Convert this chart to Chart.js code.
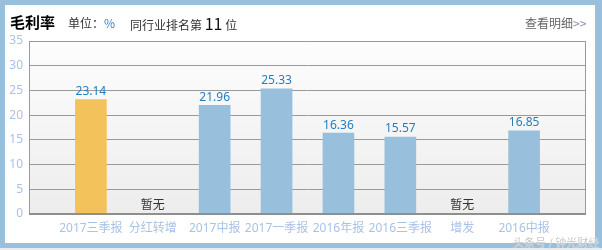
<!DOCTYPE html>
<html><head><meta charset="utf-8">
<script src="https://cdn.jsdelivr.net/npm/chart.js@4/dist/chart.umd.min.js"></script>
<style>
html,body{margin:0;padding:0;}
body{width:602px;height:250px;background:#e9ecef;position:relative;overflow:hidden;font-family:"Noto Sans CJK SC","Noto Sans",sans-serif;}
#frame{position:absolute;left:0;top:0;width:602px;height:248px;background:#98bfdc;}
#panel{position:absolute;left:5px;top:5px;width:590px;height:238px;background:#fff;}
#c{position:absolute;left:0;top:0;}
.t{position:absolute;white-space:nowrap;color:#333;font-size:12px;line-height:16px;}
#wm{position:absolute;left:513px;top:234px;font-size:11px;color:#c8c8c8;white-space:nowrap;text-shadow:0 0 1px #fff;}
</style></head>
<body>
<div id="frame"></div><div id="panel"></div>
<canvas id="c" width="602" height="250"></canvas>
<div class="t" style="left:10px;top:14px;font-size:15px;font-weight:bold;color:#000;">毛利率</div>
<div class="t" style="left:68px;top:15px;">单位：<span style="color:#3a7dc4">%</span></div>
<div class="t" style="left:130px;top:15px;">同行业排名第 <span style="font-size:16px;color:#111;">11</span> 位</div>
<div class="t" style="left:525px;top:15px;color:#666;">查看明细<span style="color:#8a8fa8">&gt;&gt;</span></div>
<div id="wm">头条号 / 钟光财经</div>
<script>
const categories = ['2017三季报','分红转增','2017中报','2017一季报','2016年报','2016三季报','增发','2016中报'];
const grossMargin = [23.14, null, 21.96, 25.33, 16.36, 15.57, null, 16.85];
const noDataText = '暂无';
const yTicks = [0,5,10,15,20,25,30,35];
const barColors = ['#f4c25a','#98bfdc','#98bfdc','#98bfdc','#98bfdc','#98bfdc','#98bfdc','#98bfdc'];

const labels = [''].concat(categories, ['']);
const data = [null].concat(grossMargin, [null]);
const colors = ['#98bfdc'].concat(barColors, ['#98bfdc']);

const plotPlugin = {
  id: 'plotbg',
  beforeDraw(chart) {
    const {ctx, chartArea: a} = chart;
    const g = ctx.createLinearGradient(0, a.top, 0, a.bottom);
    g.addColorStop(0, '#fdfdfd');
    g.addColorStop(1, '#ededed');
    ctx.save();
    ctx.fillStyle = g;
    ctx.fillRect(a.left, a.top, a.right - a.left, a.bottom - a.top);
    ctx.restore();
  },
  afterDatasetsDraw(chart) {
    const {ctx, chartArea: a} = chart;
    const meta = chart.getDatasetMeta(0);
    const ys = chart.scales.y;
    ctx.save();
    ctx.strokeStyle = '#9a9a9a';
    ctx.lineWidth = 1;
    ctx.beginPath();
    ctx.moveTo(a.left + 0.5, a.bottom); ctx.lineTo(a.left + 0.5, a.top + 0.5);
    ctx.lineTo(a.right - 0.5, a.top + 0.5); ctx.lineTo(a.right - 0.5, a.bottom);
    ctx.stroke();
    ctx.strokeStyle = '#8f8f8f';
    ctx.lineWidth = 2;
    ctx.beginPath();
    ctx.moveTo(a.left, a.bottom); ctx.lineTo(a.right, a.bottom);
    ctx.stroke();
    ctx.font = '12px "Noto Sans","Noto Sans CJK SC",sans-serif';
    ctx.textAlign = 'center';
    ctx.textBaseline = 'bottom';
    meta.data.forEach((bar, i) => {
      const v = data[i];
      if (i === 0 || i === data.length - 1) return;
      if (v === null) {
        ctx.fillStyle = '#333';
        ctx.font = '12px "Noto Sans CJK SC",sans-serif';
        ctx.textBaseline = 'middle';
        ctx.fillText(noDataText, bar.x, ys.getPixelForValue(0) - 10);
        ctx.textBaseline = 'bottom';
        ctx.font = '12px "Noto Sans","Noto Sans CJK SC",sans-serif';
      } else {
        ctx.fillStyle = '#1f7fc0';
        ctx.fillText(v.toFixed(2), bar.x, bar.y - 2);
      }
    });
    ctx.restore();
  }
};

new Chart(document.getElementById('c'), {
  type: 'bar',
  data: { labels, datasets: [{ data, backgroundColor: colors, barThickness: 31, borderWidth: 0 }] },
  options: {
    responsive: false, animation: false, devicePixelRatio: 1,
    layout: { padding: { left: 0, right: 16, top: 41, bottom: 0 } },
    plugins: { legend: { display: false }, tooltip: { enabled: false } },
    scales: {
      x: {
        offset: false,
        grid: { display: false, drawTicks: false },
        border: { display: false },
        ticks: { autoSkip: false, maxRotation: 0, minRotation: 0, padding: 7, color: '#a9c2e6',
                 font: { size: 12, family: '"Noto Sans","Noto Sans CJK SC",sans-serif' } },
        afterFit(s) { s.height = 36; }
      },
      y: {
        min: 0, max: 35,
        afterBuildTicks(s) { s.ticks = yTicks.map(v => ({ value: v })); },
        grid: { color: '#9a9a9a', drawTicks: false },
        border: { display: false },
        ticks: { padding: 6, color: '#a9c2e6', font: { size: 12, family: '"Noto Sans",sans-serif' } },
        afterFit(s) { s.width = 29; }
      }
    }
  },
  plugins: [plotPlugin]
});
</script>
</body></html>
